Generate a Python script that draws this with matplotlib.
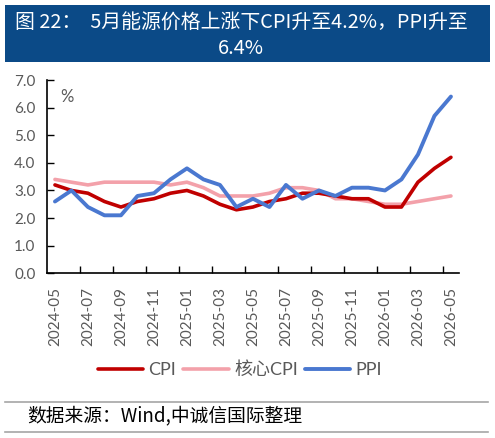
import matplotlib
matplotlib.use('Agg')
import matplotlib.pyplot as plt
from matplotlib.patches import Rectangle
from matplotlib.lines import Line2D

plt.rcParams['font.family'] = ['Lato', 'Noto Sans CJK SC', 'DejaVu Sans']

# months 2024-05 .. 2026-05
months = ['2024-05', '2024-06', '2024-07', '2024-08', '2024-09', '2024-10', '2024-11',
          '2024-12', '2025-01', '2025-02', '2025-03', '2025-04', '2025-05', '2025-06',
          '2025-07', '2025-08', '2025-09', '2025-10', '2025-11', '2025-12', '2026-01',
          '2026-02', '2026-03', '2026-04', '2026-05']
cpi = [3.2, 3.0, 2.9, 2.6, 2.4, 2.6, 2.7, 2.9, 3.0, 2.8, 2.5, 2.3, 2.4, 2.6,
       2.7, 2.9, 2.9, 2.8, 2.7, 2.7, 2.4, 2.4, 3.3, 3.8, 4.2]
core_cpi = [3.4, 3.3, 3.2, 3.3, 3.3, 3.3, 3.3, 3.2, 3.3, 3.1, 2.8, 2.8, 2.8, 2.9,
            3.1, 3.1, 3.0, 2.7, 2.7, 2.6, 2.5, 2.5, 2.6, 2.7, 2.8]
ppi = [2.6, 3.0, 2.4, 2.1, 2.1, 2.8, 2.9, 3.4, 3.8, 3.4, 3.2, 2.4, 2.7, 2.4,
       3.2, 2.7, 3.0, 2.8, 3.1, 3.1, 3.0, 3.4, 4.3, 5.7, 6.4]
yticks = [0.0, 1.0, 2.0, 3.0, 4.0, 5.0, 6.0, 7.0]

title_line1 = '图 22：  5月能源价格上涨下CPI升至4.2%，PPI升至'
title_line2 = '6.4%'
source = '数据来源：Wind,中诚信国际整理'

grey = '#595959'
fig = plt.figure(figsize=(4.95, 4.38), dpi=100)

# title band
fig.patches.append(Rectangle((5 / 495, 1 - 62 / 438), 485 / 495, 57 / 438,
                             transform=fig.transFigure, facecolor='#0b4a87',
                             edgecolor='none', zorder=0))
cjk = ['Noto Sans CJK SC', 'DejaVu Sans']
fig.text(241 / 495, 1 - 22 / 438, title_line1, color='white', fontsize=14.3,
         ha='center', va='center', family=cjk)
fig.text(241 / 495, 1 - 48 / 438, title_line2, color='white', fontsize=14.3,
         ha='center', va='center', family=cjk)

ax = fig.add_axes([46.7 / 495, 1 - 273.3 / 438, 412.5 / 495, 193.3 / 438])
x = list(range(len(months)))
ax.plot(x, cpi, color='#c00000', lw=2.6, label='CPI', solid_capstyle='round', zorder=3)
ax.plot(x, core_cpi, color='#f3a1aa', lw=2.6, label='核心CPI', solid_capstyle='round', zorder=2)
ax.plot(x, ppi, color='#4a78d0', lw=2.8, label='PPI', solid_capstyle='round', zorder=4)

ax.set_xlim(-0.5, len(months) - 0.5)
ax.set_ylim(0, 7)
ax.set_yticks(yticks)
ax.set_yticklabels(['%.1f' % v for v in yticks])
# ticks at category boundaries, labels at every other category
ax.set_xticks([-0.5 + 2 * k for k in range(1, 13)])
ax.set_xticklabels([])
ax.set_xticks(x[::2], minor=True)
ax.set_xticklabels(months[::2], minor=True, rotation=90)
ax.tick_params(axis='x', which='major', direction='in', length=5, width=1, color='black')
ax.tick_params(axis='x', which='minor', length=0, pad=10, labelsize=11, labelcolor=grey)
ax.tick_params(axis='y', direction='in', length=5, width=1, pad=8, labelsize=11,
               labelcolor=grey)
for s in ['top', 'right']:
    ax.spines[s].set_visible(False)
for s in ['left', 'bottom']:
    ax.spines[s].set_linewidth(1.2)
ax.text(0.048, 0.912, '%', transform=ax.transAxes, fontsize=12, color=grey,
        ha='center', va='center')

handles, labels = ax.get_legend_handles_labels()
fig.legend(handles, labels, loc='center', bbox_to_anchor=(240 / 495, 1 - 370 / 438),
           ncol=3, frameon=False, fontsize=13, handlelength=2.5, handletextpad=0.3,
           columnspacing=0.4, labelcolor=grey)

# source footer
for yy in (401.7, 432):
    fig.add_artist(Line2D([5 / 495, 488 / 495], [1 - yy / 438, 1 - yy / 438],
                          transform=fig.transFigure, color='#a6a6a6', lw=1.2))
fig.text(27 / 495, 1 - 415.5 / 438, source, fontsize=13.5, color='black',
         ha='left', va='center', family=cjk)

fig.savefig('out.png', dpi=100)
